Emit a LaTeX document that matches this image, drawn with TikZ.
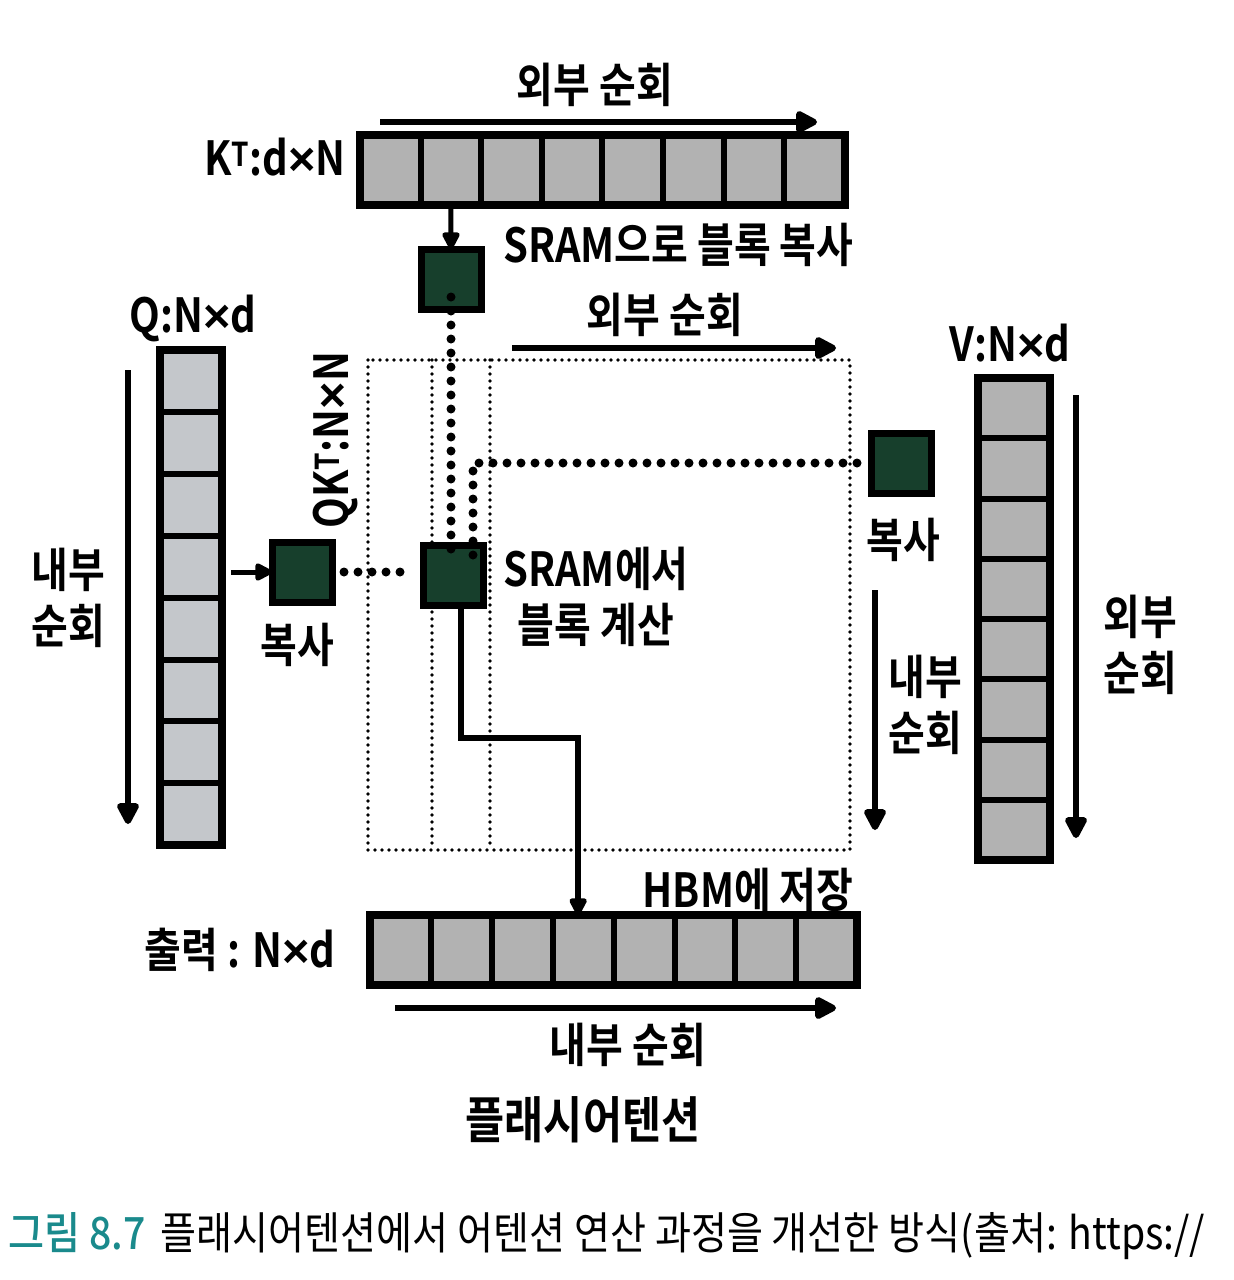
\documentclass[tikz,border=0pt]{standalone}
\usepackage{fontspec}
\newfontfamily\hand{Noto Sans CJK KR}[UprightFont={* Bold}, FakeStretch=0.85]
\newfontfamily\symf{Liberation Sans}[UprightFont={* Bold}]
\newfontfamily\capfont{Noto Sans CJK KR}[FakeStretch=0.88]
\newfontfamily\capbold{Noto Sans CJK KR}[UprightFont={* Medium}, FakeStretch=0.88]
\newcommand\tms{{\symf ×}}
\usetikzlibrary{arrows.meta}
\definecolor{cellk}{HTML}{B2B2B2}
\definecolor{cellq}{HTML}{C4C7CB}
\definecolor{blockgreen}{HTML}{173F2C}
\definecolor{capteal}{HTML}{1A8A8C}
\begin{document}
\begin{tikzpicture}[x=1pt,y=-1pt,
  hw/.style={font=\hand\fontsize{47}{56}\selectfont, inner sep=0pt, align=center},
  cellbox/.style={draw=black, line width=6pt, outer sep=0pt, inner sep=0pt},
  frame/.style={draw=black, line width=8pt},
  gblock/.style={draw=black, fill=blockgreen, line width=7pt, minimum width=60pt, minimum height=60pt, inner sep=0pt, outer sep=0pt},
  bigarr/.style={line width=6.5pt, -{Triangle[length=25pt,width=24pt,round]}},
  smallarr/.style={line width=5pt, -{Triangle[length=20pt,width=19pt,round]}},
  finedots/.style={line width=3.8pt, line cap=round, dash pattern=on 0pt off 7pt},
  bigdots/.style={line width=9pt, line cap=round, dash pattern=on 0pt off 14pt},
]
\useasboundingbox[fill=white] (0,0) rectangle (1234,1280);

% ---------- K^T bar ----------
\foreach \i in {1,...,8}
  \node[cellbox, fill=cellk, minimum width=60.6pt, minimum height=70pt] (k\i) at ({360+60.6*(\i-0.5)},170) {};
\draw[frame] (k1.north west) rectangle (k8.south east);
\node[hw] (klab) at (275,157) {K\textsuperscript{T}:d\tms N};
\node[hw] (outer1) at (595,85) {외부 순회};
\coordinate (a1s) at (380,122);
\coordinate (a1e) at (817,122);
\draw[bigarr] (a1s) -- (a1e);

% ---------- K block ----------
\node[gblock] (kb) at (451,279) {};
\draw[smallarr] (k2.south) -- (kb.north);
\node[hw, anchor=west] (sramcopy) at (503,245) {SRAM으로 블록 복사};

% ---------- QK^T area ----------
\node[draw=none, minimum width=482pt, minimum height=490pt, inner sep=0pt, outer sep=0pt] (qkt) at (609,605) {};
\draw[finedots] (qkt.north west) rectangle (qkt.south east);
\coordinate (v1) at (432,0);
\coordinate (v2) at (490,0);
\draw[finedots] (qkt.north -| v1) -- (qkt.south -| v1);
\draw[finedots] (qkt.north -| v2) -- (qkt.south -| v2);
\node[hw, rotate=90] (qktlab) at (336,440) {QK\textsuperscript{T}:N\tms N};
\node[hw] (outer2) at (665,315) {외부 순회};
\coordinate (a2s) at (512,348);
\coordinate (a2e) at (836,348);
\draw[bigarr] (a2s) -- (a2e);

% ---------- Q bar ----------
\foreach \i in {1,...,8}
  \node[cellbox, fill=cellq, minimum width=62pt, minimum height=61.9pt] (q\i) at (191,{350+61.9*(\i-0.5)}) {};
\draw[frame] (q1.north west) rectangle (q8.south east);
\node[hw] (qlab) at (193,318) {Q:N\tms d};
\coordinate (a3s) at (128,370);
\coordinate (a3e) at (128,824);
\draw[bigarr] (a3s) -- (a3e);
\node[hw] (qinner) at (68,598) {내부\\순회};

% ---------- Q block & SRAM block ----------
\node[gblock] (qb) at (302,572) {};
\node[gblock] (sb) at (453,575) {};
\draw[smallarr] ([xshift=9pt]q4.east |- qb.west) -- (qb.west);
\node[hw] (qcopy) at (297,645) {복사};
\draw[bigdots] ([xshift=12pt]qb.east) -- ([xshift=-12pt]sb.west |- qb.east);
\draw[bigdots] ([yshift=12pt]kb.south) -- ([yshift=-10pt]sb.north -| kb.south);
\coordinate (v3) at (473,0);
\node[hw] (sramcalc) at (596,597) {SRAM에서\\블록 계산};

% ---------- V block & V bar ----------
\node[gblock] (vb) at (901,463) {};
\draw[bigdots] ([yshift=-10pt]sb.north -| v3) |- ([xshift=-12pt]vb.west);
\node[hw] (vcopy) at (903,540) {복사};
\coordinate (a4s) at (875,590);
\coordinate (a4e) at (875,830);
\draw[bigarr] (a4s) -- (a4e);
\node[hw] (vinner) at (925,705) {내부\\순회};
\foreach \i in {1,...,8}
  \node[cellbox, fill=cellk, minimum width=72pt, minimum height=60.25pt] (w\i) at (1014,{378+60.25*(\i-0.5)}) {};
\draw[frame] (w1.north west) rectangle (w8.south east);
\node[hw] (vlab) at (1010,343) {V:N\tms d};
\coordinate (a5s) at (1076,395);
\coordinate (a5e) at (1076,838);
\draw[bigarr] (a5s) -- (a5e);
\node[hw] (vouter) at (1140,645) {외부\\순회};

% ---------- Output bar ----------
\foreach \i in {1,...,8}
  \node[cellbox, fill=cellk, minimum width=60.9pt, minimum height=70pt] (o\i) at ({370+60.9*(\i-0.5)},950) {};
\draw[frame] (o1.north west) rectangle (o8.south east);
\node[hw] (olab) at (240,950) {출력 : N\tms d};
\coordinate (bend) at (0,738);
\draw[smallarr, line width=5.5pt] ([xshift=8pt]sb.south) |- ([xshift=-5pt]o4.north |- bend) -- ([xshift=-5pt]o4.north);
\node[hw] (hbm) at (748,890) {HBM에 저장};
\coordinate (a6s) at (395,1008);
\coordinate (a6e) at (836,1008);
\draw[bigarr] (a6s) -- (a6e);
\node[hw] (oinner) at (628,1045) {내부 순회};
\node[hw, font=\hand\fontsize{50}{56}\selectfont] (title) at (583,1120) {플래시어텐션};

% ---------- caption ----------
\node[anchor=west, inner sep=0pt, font=\capfont\fontsize{44.5}{50}\selectfont] (cap) at (8,1236)
  {{\capbold\color{capteal}그림 8.7}\hspace{15pt}플래시어텐션에서 어텐션 연산 과정을 개선한 방식(출처: https://};
\end{tikzpicture}
\end{document}
